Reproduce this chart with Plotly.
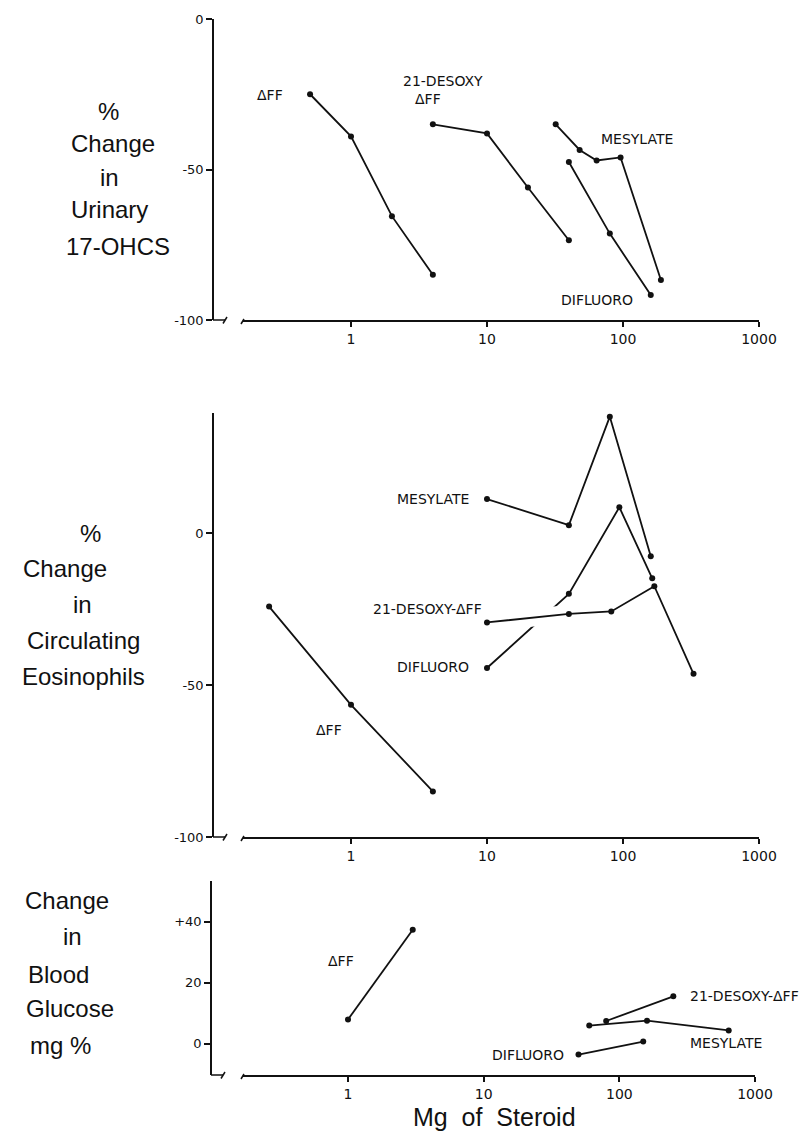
import plotly.graph_objects as go

W, H = 810, 1134

# ---------------- data ----------------
# Panel 1: % change in urinary 17-OHCS
p1_dff_x = [0.5, 1, 2, 4]
p1_dff_y = [-25, -39, -65.5, -85]
p1_des_x = [4, 10, 20, 40]
p1_des_y = [-35, -38, -56, -73.5]
p1_mes_x = [32, 48, 64, 96, 190]
p1_mes_y = [-35, -43.5, -47, -46, -86.7]
p1_dif_x = [40, 80, 160]
p1_dif_y = [-47.5, -71.3, -91.7]

# Panel 2: % change in circulating eosinophils
p2_dff_x = [0.25, 1, 4]
p2_dff_y = [-24.2, -56.5, -85]
p2_mes_x = [10, 40, 80, 160]
p2_mes_y = [11.2, 2.6, 38.3, -7.6]
p2_des_x = [10, 40, 82, 170, 330]
p2_des_y = [-29.4, -26.6, -25.8, -17.5, -46.3]
p2_dif_x = [10, 40, 94, 164]
p2_dif_y = [-44.4, -20, 8.5, -14.9]

# Panel 3: change in blood glucose mg %
p3_dff_x = [1, 3]
p3_dff_y = [8, 37.4]
p3_des_x = [80, 250]
p3_des_y = [7.5, 15.6]
p3_mes_x = [60, 160, 640]
p3_mes_y = [6, 7.6, 4.4]
p3_dif_x = [50, 150]
p3_dif_y = [-3.5, 0.75]

x_tickvals = [1, 10, 100, 1000]
x_ticktext = ["1", "10", "100", "1000"]
p1_yticks = [0, -50, -100]
p1_yticktext = ["0", "-50", "-100"]
p2_yticks = [0, -50, -100]
p2_yticktext = ["0", "-50", "-100"]
p3_yticks = [40, 20, 0]
p3_yticktext = ["+40", "20", "0"]


def px(x):
    return x / W


def py(y):
    return 1 - y / H


INK = "#111111"
LINE = dict(color=INK, width=1.8)
MARK = dict(color=INK, size=6)

fig = go.Figure()


def series(xs, ys, xa, ya):
    fig.add_trace(go.Scatter(x=xs, y=ys, mode="lines+markers", line=LINE,
                             marker=MARK, xaxis=xa, yaxis=ya,
                             showlegend=False, hoverinfo="skip"))


# panel 1
for xs, ys in [(p1_dff_x, p1_dff_y), (p1_des_x, p1_des_y),
               (p1_mes_x, p1_mes_y), (p1_dif_x, p1_dif_y)]:
    series(xs, ys, "x", "y")

# panel 2 (difluoro passes behind the 21-desoxy line: white halo gap)
series(p2_mes_x, p2_mes_y, "x2", "y2")
series(p2_dif_x, p2_dif_y, "x2", "y2")
fig.add_trace(go.Scatter(x=p2_des_x[:2], y=p2_des_y[:2], mode="lines",
                         line=dict(color="white", width=18), xaxis="x2", yaxis="y2",
                         showlegend=False, hoverinfo="skip"))
series(p2_des_x, p2_des_y, "x2", "y2")
series(p2_dff_x, p2_dff_y, "x2", "y2")

# panel 3
for xs, ys in [(p3_dff_x, p3_dff_y), (p3_des_x, p3_des_y),
               (p3_mes_x, p3_mes_y), (p3_dif_x, p3_dif_y)]:
    series(xs, ys, "x3", "y3")

TICKFONT_Y = dict(family="DejaVu Sans", size=13, color=INK)
TICKFONT_X = dict(family="DejaVu Sans", size=14, color=INK)


def xaxis(domain, rng, anchor):
    return dict(type="log", domain=domain, range=rng, anchor=anchor,
                automargin=False,
                showline=True, linecolor=INK, linewidth=1.5,
                ticks="outside", ticklen=5, tickwidth=1.5, tickcolor=INK,
                tickvals=x_tickvals, ticktext=x_ticktext, tickfont=TICKFONT_X,
                showgrid=False, zeroline=False)


def yaxis(domain, rng, pos, tv, tt):
    return dict(domain=domain, range=rng, anchor="free", position=pos,
                automargin=False,
                showline=True, linecolor=INK, linewidth=1.5,
                ticks="outside", ticklen=6, tickwidth=1.5, tickcolor=INK,
                tickvals=tv, ticktext=tt, tickfont=TICKFONT_Y,
                showgrid=False, zeroline=False)


fig.update_layout(
    width=W, height=H, margin=dict(l=0, r=0, t=0, b=0, pad=0, autoexpand=False),
    paper_bgcolor="white", plot_bgcolor="white", showlegend=False,
    xaxis=xaxis([px(235), px(751)], [-0.794, 3], "y"),
    yaxis=yaxis([py(312), py(11)], [-100, 0], px(205), p1_yticks, p1_yticktext),
    xaxis2=xaxis([px(235), px(751)], [-0.794, 3], "y2"),
    yaxis2=yaxis([py(829), py(405)], [-100, 39.5], px(205), p2_yticks, p2_yticktext),
    xaxis3=xaxis([px(235), px(747)], [-0.774, 3], "y3"),
    yaxis3=yaxis([py(1067), py(873)], [-10.2, 53.4], px(203), p3_yticks, p3_yticktext),
)

LABFONT = dict(family="DejaVu Sans", size=14, color=INK)
TITLEFONT = dict(family="Liberation Sans", size=24, color=INK)

annots = []


def lab(text, x, y, font=LABFONT, xanchor="center"):
    annots.append(dict(text=text, x=px(x), y=py(y), xref="paper", yref="paper",
                       showarrow=False, xanchor=xanchor, yanchor="middle", font=font))


# series labels
lab("ΔFF", 262, 87)
lab("21-DESOXY", 435, 73)
lab("ΔFF", 420, 91)
lab("MESYLATE", 629, 131)
lab("DIFLUORO", 589, 292)

lab("MESYLATE", 425, 491)
lab("21-DESOXY-ΔFF", 419, 601)
lab("DIFLUORO", 425, 659)
lab("ΔFF", 321, 722)

lab("ΔFF", 333, 953)
lab("21-DESOXY-ΔFF", 680, 988, xanchor="left")
lab("MESYLATE", 718, 1035)
lab("DIFLUORO", 520, 1047)

# y titles
for t, x, y in [("%", 100, 103), ("Change", 105, 135), ("in", 102, 170),
                ("Urinary", 101, 202), ("17-OHCS", 110, 238)]:
    lab(t, x, y, TITLEFONT)
for t, x, y in [("%", 82, 525), ("Change", 57, 560), ("in", 74, 596),
                ("Circulating", 75, 632), ("Eosinophils", 75, 668)]:
    lab(t, x, y, TITLEFONT)
for t, x, y in [("Change", 59, 892), ("in", 64, 928), ("Blood", 50, 966),
                ("Glucose", 62, 1000), ("mg %", 52, 1037)]:
    lab(t, x, y, TITLEFONT)

# x title
lab("Mg\u00a0 of\u00a0 Steroid", 487, 1109, dict(family="Liberation Sans", size=25, color=INK))

fig.update_layout(annotations=annots)

# axis-break marks
shapes = []


def seg(x0, y0, x1, y1):
    shapes.append(dict(type="line", xref="paper", yref="paper",
                       x0=px(x0), y0=py(y0), x1=px(x1), y1=py(y1),
                       line=dict(color=INK, width=1.5)))


for (ax, ay, xs) in [(205, 312, 235), (205, 829, 235), (203, 1067, 235)]:
    seg(ax, ay, ax + 12, ay)
    seg(ax + 10, ay + 3.5, ax + 14, ay - 3)
    seg(xs - 2, ay + 4, xs + 1, ay - 1)

fig.update_layout(shapes=shapes)

fig.write_html("out.html")
